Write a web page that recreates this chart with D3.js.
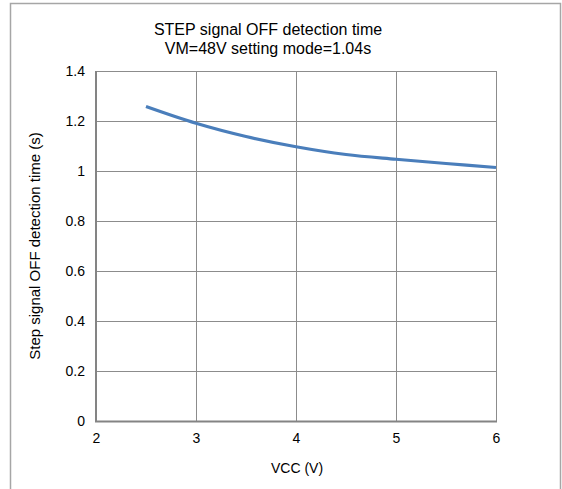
<!DOCTYPE html>
<html>
<head>
<meta charset="utf-8">
<script src="https://cdn.jsdelivr.net/npm/d3@7"></script>
<style>
  body { margin: 0; background: #fff; }
  text { font-family: "Liberation Sans", Arial, sans-serif; fill: #000; }
</style>
</head>
<body>
<svg id="chart"></svg>
<script>
// ---------------------------------------------
// DATA
// ---------------------------------------------
const vcc = [2.5, 3, 3.5, 4, 4.5, 5, 5.5, 6];
const offTime = [1.258, 1.191, 1.138, 1.097, 1.066, 1.047, 1.030, 1.014];
const xTicks = [2, 3, 4, 5, 6];
const yTicks = [0, 0.2, 0.4, 0.6, 0.8, 1, 1.2, 1.4];
const titleLines = ["STEP signal OFF detection time", "VM=48V setting mode=1.04s"];
const xLabel = "VCC (V)";
const yLabel = "Step signal OFF detection time (s)";

// ---------------------------------------------
// SVG + SCALES
// ---------------------------------------------
const width = 562, height = 489;
const plot = { left: 96, right: 496, top: 71, bottom: 421 };

const svg = d3.select("#chart")
  .attr("width", width)
  .attr("height", height);

// outer chart frame (bottom edge runs off the picture)
svg.append("rect")
  .attr("x", 10.5).attr("y", 3.5)
  .attr("width", 550).attr("height", 500)
  .attr("fill", "none")
  .attr("stroke", "#a6a6a6")
  .attr("stroke-width", 1.5);

const x = d3.scaleLinear().domain([2, 6]).range([plot.left, plot.right]);
const y = d3.scaleLinear().domain([0, 1.4]).range([plot.bottom, plot.top]);

// ---------------------------------------------
// GRID
// ---------------------------------------------
svg.append("g")
  .selectAll("line")
  .data(xTicks.slice(1))
  .join("line")
    .attr("x1", d => x(d) + 0.5).attr("x2", d => x(d) + 0.5)
    .attr("y1", plot.top).attr("y2", plot.bottom)
    .attr("stroke", "#8c8c8c");

svg.append("g")
  .selectAll("line")
  .data(yTicks.slice(1))
  .join("line")
    .attr("x1", plot.left).attr("x2", plot.right)
    .attr("y1", d => y(d) + 0.5).attr("y2", d => y(d) + 0.5)
    .attr("stroke", "#8c8c8c");

// ---------------------------------------------
// AXES
// ---------------------------------------------
const xAxis = svg.append("g")
  .attr("transform", `translate(0,${plot.bottom})`)
  .call(d3.axisBottom(x).tickValues(xTicks).tickSize(0).tickPadding(12).tickFormat(d3.format("d")));
xAxis.select(".domain").remove();
xAxis.selectAll("text").attr("font-size", 14).style("font-family", "Liberation Sans, Arial, sans-serif");

const yAxis = svg.append("g")
  .attr("transform", `translate(${plot.left},0)`)
  .call(d3.axisLeft(y).tickValues(yTicks).tickSize(0).tickPadding(11).tickFormat(d => d3.format("~g")(d)));
yAxis.select(".domain").remove();
yAxis.selectAll("text").attr("font-size", 14).style("font-family", "Liberation Sans, Arial, sans-serif");

// left + bottom axis lines, a bit heavier than the grid
svg.append("path")
  .attr("d", `M${plot.left},${plot.top}V${plot.bottom + 0.5}H${plot.right + 1}`)
  .attr("fill", "none")
  .attr("stroke", "#848484")
  .attr("stroke-width", 2);

// ---------------------------------------------
// LINE
// ---------------------------------------------
const line = d3.line()
  .x((d, i) => x(vcc[i]))
  .y(d => y(d))
  .curve(d3.curveCatmullRom);

svg.append("path")
  .datum(offTime)
  .attr("d", line)
  .attr("fill", "none")
  .attr("stroke", "#4a7ebb")
  .attr("stroke-width", 3.2)
  .attr("stroke-linecap", "butt");

// ---------------------------------------------
// TITLES
// ---------------------------------------------
svg.append("g")
  .selectAll("text")
  .data(titleLines)
  .join("text")
    .attr("x", 268)
    .attr("y", (d, i) => 35 + i * 19)
    .attr("text-anchor", "middle")
    .attr("font-size", 16)
    .text(d => d);

svg.append("text")
  .attr("x", 297).attr("y", 473)
  .attr("text-anchor", "middle")
  .attr("font-size", 14)
  .text(xLabel);

svg.append("text")
  .attr("transform", `translate(40,${(plot.top + plot.bottom) / 2}) rotate(-90)`)
  .attr("text-anchor", "middle")
  .attr("font-size", 15)
  .text(yLabel);
</script>
</body>
</html>
